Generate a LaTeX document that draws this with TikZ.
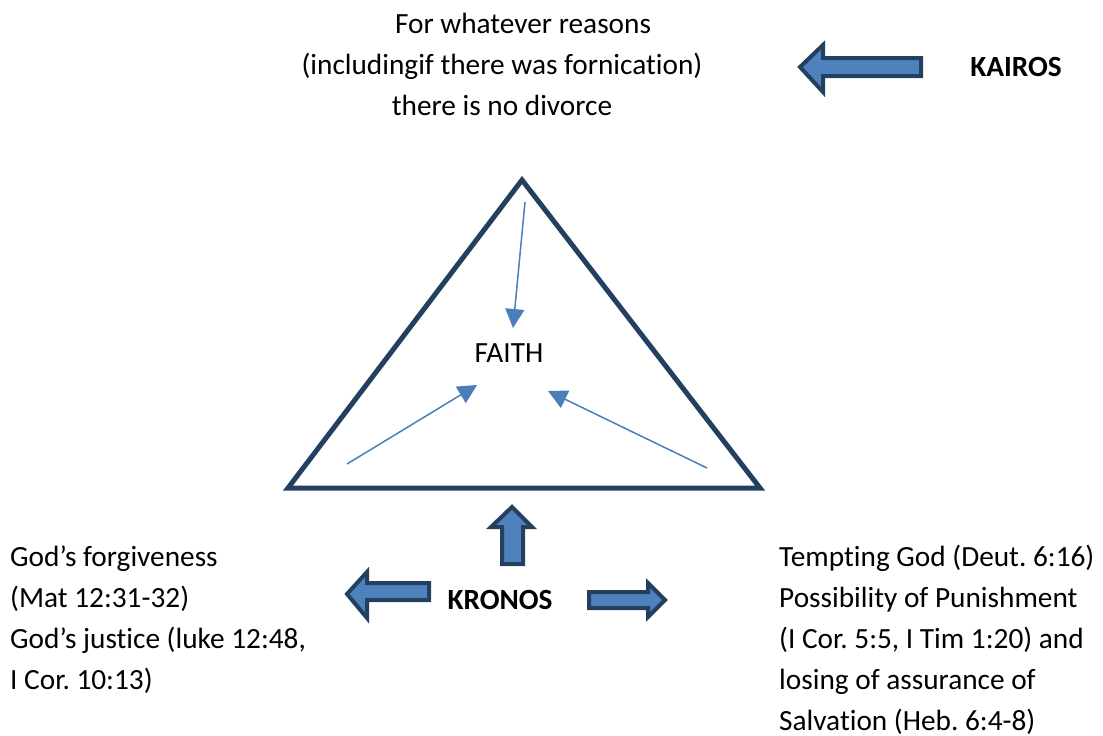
\documentclass[tikz,border=0pt]{standalone}
\usepackage{fontspec}
\setmainfont{Carlito}[Ligatures=NoCommon]
\usepackage{tikz}
\usetikzlibrary{arrows.meta}
\frenchspacing

\definecolor{navy}{RGB}{36,64,97}
\definecolor{arrowblue}{RGB}{79,129,189}
\definecolor{linkblue}{RGB}{74,126,187}

\tikzset{
  blockarrow/.style={draw=navy, line width=4pt, fill=arrowblue, line join=miter},
  pointer/.style={linkblue, line width=1.5pt, -{Triangle[length=19pt,width=19pt]}},
  label/.style={inner sep=0pt, font=\fontsize{29.3pt}{41pt}\selectfont},
  heading/.style={label, font=\fontsize{29.3pt}{41pt}\selectfont\bfseries}
}

\begin{document}
\begin{tikzpicture}[x=1pt, y=-1pt]
    \useasboundingbox (0,0) rectangle (1103,736);
    % Caption
    \node [label, align=center] (rule) at (502,64)
        {\hspace*{42pt}For whatever reasons\\(includingif there was fornication)\\there is no divorce};
    \node [heading] (kairos) at (1016,67) {KAIROS};
    % Kairos arrow
    \draw [blockarrow] (921,58) -- (823,58) -- (823,45) -- (800,67) -- (823,92)
        -- (823,76) -- (921,76) -- cycle;
    % Triangle
    \draw [navy, line width=5pt, line join=miter] (522,180) -- (760,488) -- (288,488) -- cycle;
    \node [label] (faith) at (509,353) {FAITH};
    % Pointers
    \coordinate (top) at (525,202);
    \coordinate (topend) at (513,328);
    \coordinate (left) at (347,464);
    \coordinate (leftend) at (477,385);
    \coordinate (right) at (707,468);
    \coordinate (rightend) at (548,391);
    \draw [pointer] (top) -- (topend);
    \draw [pointer] (left) -- (leftend);
    \draw [pointer] (right) -- (rightend);
    % Kronos
    \node [heading] (kronos) at (500,600) {KRONOS};
    \draw [blockarrow] (502,564) -- (502,527) -- (491,527) -- (512,507) -- (532,527)
        -- (523,527) -- (523,564) -- cycle;
    \draw [blockarrow] (429,583) -- (367,583) -- (367,572) -- (347,594) -- (367,618)
        -- (367,600) -- (429,600) -- cycle;
    \draw [blockarrow] (589,592) -- (648,592) -- (648,583) -- (665,600) -- (648,617)
        -- (648,608) -- (589,608) -- cycle;
    % Sides
    \node [label, align=left, anchor=west] (mercy) at (10,620)
        {God’s forgiveness\\(Mat 12:31-32)\\God’s justice (luke 12:48,\\I Cor. 10:13)};
    \node [label, align=left, anchor=west] (warning) at (779,640)
        {Tempting God (Deut. 6:16)\\Possibility of Punishment\\(I Cor. 5:5, I Tim 1:20) and\\losing of assurance of\\Salvation (Heb. 6:4-8)};
\end{tikzpicture}
\end{document}
